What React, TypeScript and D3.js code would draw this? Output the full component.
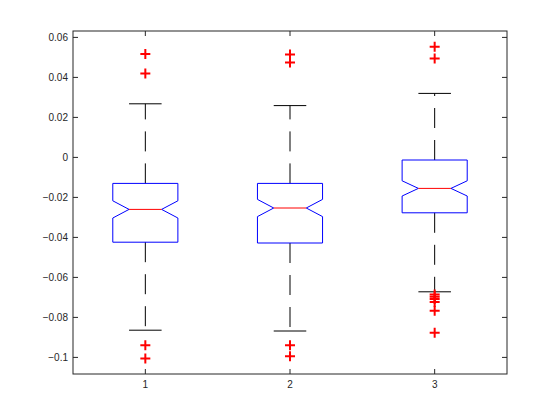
import { useRef, useEffect } from "react";
import * as d3 from "d3";

const groups = ["1", "2", "3"];
const q1 = [-0.0424, -0.0428, -0.0277];
const q3 = [-0.013, -0.013, -0.0013];
const medians = [-0.026, -0.0253, -0.0155];
const notchHalf = [0.0043, 0.0043, 0.0038];
const whiskerLow = [-0.0864, -0.0868, -0.0672];
const whiskerHigh = [0.0268, 0.0259, 0.032];
const outliers = [
  [0.0517, 0.042, -0.0939, -0.1005],
  [0.0515, 0.0475, -0.0939, -0.0994],
  [0.0553, 0.0495, -0.0685, -0.0697, -0.0708, -0.0723, -0.0767, -0.0877],
];
const yTicks = [-0.1, -0.08, -0.06, -0.04, -0.02, 0, 0.02, 0.04, 0.06];

export default function App() {
  const svgRef = useRef<SVGSVGElement>(null);
  const width = 560;
  const height = 420;
  const margin = { top: 31, right: 53, bottom: 46, left: 73 };
  const innerW = width - margin.left - margin.right;
  const innerH = height - margin.top - margin.bottom;

  useEffect(() => {
    if (!svgRef.current) return;
    const svg = d3.select(svgRef.current);
    svg.selectAll("*").remove();

    const g = svg.append("g").attr("transform", `translate(${margin.left},${margin.top})`);

    const x = d3.scaleLinear().domain([0.5, 3.5]).range([0, innerW]);
    const y = d3.scaleLinear().domain([-0.1083, 0.0632]).range([innerH, 0]);
    const boxW = x(1.45) - x(1);
    const axisColor = "#262626";
    const font = "'Liberation Sans', Arial, Helvetica, sans-serif";

    groups.forEach((_, i) => {
      const cx = x(i + 1);
      const half = boxW / 2;
      const inner = half / 2;
      const m = medians[i];
      const nLo = m - notchHalf[i];
      const nHi = m + notchHalf[i];

      // whiskers
      g.append("line")
        .attr("x1", cx).attr("x2", cx)
        .attr("y1", y(q3[i])).attr("y2", y(whiskerHigh[i]))
        .attr("stroke", "#000").attr("stroke-dasharray", "20,12");
      g.append("line")
        .attr("x1", cx).attr("x2", cx)
        .attr("y1", y(q1[i])).attr("y2", y(whiskerLow[i]))
        .attr("stroke", "#000").attr("stroke-dasharray", "20,12");
      [whiskerHigh[i], whiskerLow[i]].forEach((v) => {
        g.append("line")
          .attr("x1", cx - inner).attr("x2", cx + inner)
          .attr("y1", y(v)).attr("y2", y(v))
          .attr("stroke", "#000");
      });

      // notched box
      const pts: [number, number][] = [
        [cx - half, y(q3[i])],
        [cx + half, y(q3[i])],
        [cx + half, y(nHi)],
        [cx + inner, y(m)],
        [cx + half, y(nLo)],
        [cx + half, y(q1[i])],
        [cx - half, y(q1[i])],
        [cx - half, y(nLo)],
        [cx - inner, y(m)],
        [cx - half, y(nHi)],
      ];
      g.append("path")
        .attr("d", d3.line()(pts) + "Z")
        .attr("fill", "none")
        .attr("stroke", "#0000ff");

      g.append("line")
        .attr("x1", cx - inner).attr("x2", cx + inner)
        .attr("y1", y(m)).attr("y2", y(m))
        .attr("stroke", "#ff0000");

      // outliers
      outliers[i].forEach((v) => {
        const py = y(v);
        g.append("path")
          .attr("d", `M${cx - 5},${py}H${cx + 5}M${cx},${py - 5}V${py + 5}`)
          .attr("stroke", "#ff0000")
          .attr("stroke-width", 2)
          .attr("fill", "none");
      });
    });

    // frame
    g.append("rect")
      .attr("width", innerW).attr("height", innerH)
      .attr("fill", "none").attr("stroke", axisColor);

    // y ticks (inward, both sides)
    yTicks.forEach((t) => {
      const py = y(t);
      g.append("line").attr("x1", 0).attr("x2", 5).attr("y1", py).attr("y2", py).attr("stroke", axisColor);
      g.append("line").attr("x1", innerW - 5).attr("x2", innerW).attr("y1", py).attr("y2", py).attr("stroke", axisColor);
      g.append("text")
        .attr("x", -5).attr("y", py)
        .attr("dy", "0.35em")
        .attr("text-anchor", "end")
        .attr("font-family", font)
        .attr("font-size", 10)
        .attr("fill", axisColor)
        .text(d3.format("~g")(+t.toFixed(2)));
    });

    // x ticks
    groups.forEach((name, i) => {
      const px = x(i + 1);
      g.append("line").attr("x1", px).attr("x2", px).attr("y1", innerH).attr("y2", innerH - 5).attr("stroke", axisColor);
      g.append("line").attr("x1", px).attr("x2", px).attr("y1", 0).attr("y2", 5).attr("stroke", axisColor);
      g.append("text")
        .attr("x", px).attr("y", innerH + 14)
        .attr("text-anchor", "middle")
        .attr("font-family", font)
        .attr("font-size", 10)
        .attr("fill", axisColor)
        .text(name);
    });
  }, []);

  return (
    <svg
      ref={svgRef}
      width={width}
      height={height}
      style={{ position: "absolute", left: 0, top: 0, background: "#fff" }}
    />
  );
}
